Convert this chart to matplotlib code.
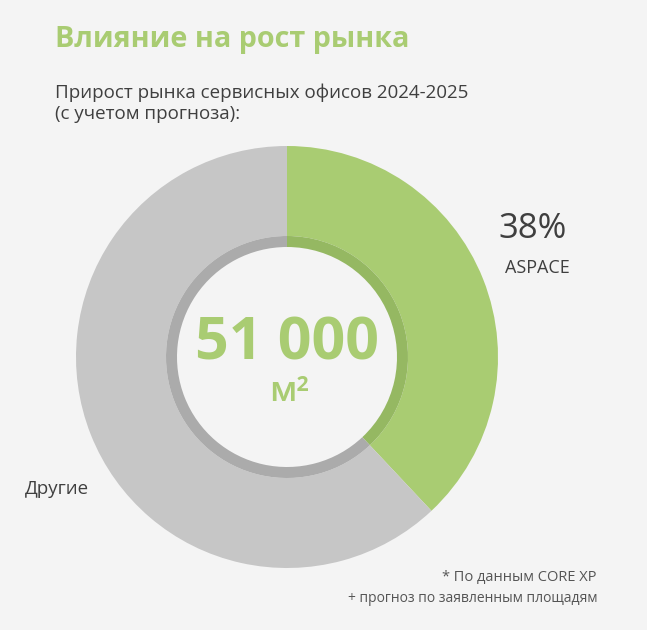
import matplotlib
matplotlib.use("Agg")
import matplotlib.pyplot as plt

# data
labels = ["ASPACE", "Другие"]
shares = [38, 62]
total_text = "51 000"
unit_text = "м²"
title = "Влияние на рост рынка"
subtitle = "Прирост рынка сервисных офисов 2024-2025\n(с учетом прогноза):"
notes = ["* По данным CORE XP", "+ прогноз по заявленным площадям"]

green = "#a9cc72"
grey = "#c6c6c6"
green_dark = "#95b862"
grey_dark = "#ababab"
bg = "#f4f4f4"
txt = "#3f3f3f"

W, H = 647, 630
fig = plt.figure(figsize=(W / 100, H / 100), dpi=100, facecolor=bg)
ax = fig.add_axes([0, 0, 1, 1])
ax.set_facecolor(bg)

cx, cy = 287, H - 357
ax.pie(shares, colors=[green, grey], startangle=90, counterclock=False,
       radius=211, center=(cx, cy), wedgeprops=dict(width=90, linewidth=0))
# darker inner rim
ax.pie(shares, colors=[green_dark, grey_dark], startangle=90, counterclock=False,
       radius=121, center=(cx, cy), wedgeprops=dict(width=11, linewidth=0))

ax.set_xlim(0, W)
ax.set_ylim(0, H)
ax.set_aspect("equal")
ax.axis("off")

font = ["Open Sans", "DejaVu Sans"]
ax.text(55, H - 40, title, color=green, fontsize=20.7, fontweight="bold",
        family=font, va="center", ha="left")
ax.text(55, H - 103, subtitle, color=txt, fontsize=13.5, family=font,
        va="center", ha="left", linespacing=1.2)

ax.text(cx, H - 344, total_text, color=green, fontsize=42.5, fontweight="bold",
        family=font, ha="center", va="center")
ax.text(cx + 2, H - 392, unit_text, color=green, fontsize=25, fontweight="semibold",
        family=font, ha="center", va="center")

ax.text(533, H - 229, f"{shares[0]}%", color=txt, fontsize=25, fontweight="medium",
        family=font, ha="center", va="center")
ax.text(537, H - 268, labels[0], color=txt, fontsize=13, family=font,
        ha="center", va="center")
ax.text(25, H - 489, labels[1], color=txt, fontsize=13.5, family=font,
        ha="left", va="center")

ax.text(597, H - 578, notes[0], color="#555555", fontsize=10.5, family=font,
        ha="right", va="center")
ax.text(597, H - 599, notes[1], color="#555555", fontsize=10, family=font,
        ha="right", va="center")

fig.savefig("out.png", dpi=100, facecolor=bg)
